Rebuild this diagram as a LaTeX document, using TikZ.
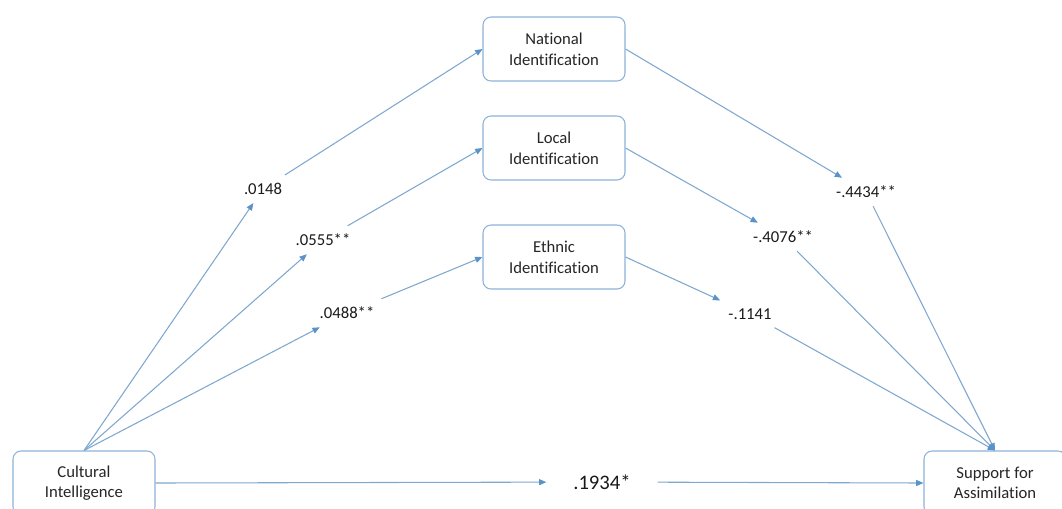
\documentclass[tikz,border=0pt]{standalone}
\usepackage{fontspec}
\setmainfont[Ligatures=NoCommon]{Carlito}
\usepackage{tikz}
\usetikzlibrary{arrows.meta}
\definecolor{boxline}{HTML}{8DB3D9}
\definecolor{pathline}{HTML}{7FA8CF}
\definecolor{tipblue}{HTML}{5B93C8}
\tikzset{mediation/.style={
    factor/.style={rectangle, draw=boxline, line width=0.8pt, rounded corners=6pt, minimum width=106.5pt, minimum height=48pt, align=center, fill=white, text=black!85, font=\fontsize{12.5}{15.5}\selectfont},
    coef/.style={inner sep=6pt, text=black!90, font=\fontsize{12.5}{15}\selectfont},
    coefbig/.style={coef, inner xsep=20pt, font=\fontsize{15.5}{18}\selectfont},
    effect/.style={draw=pathline, line width=0.8pt, -{Triangle[length=5.5pt, width=4.5pt, color=tipblue]}},
}}

\begin{document}
\begin{tikzpicture}[mediation, x=0.75pt, y=-0.75pt]
    \useasboundingbox (0,0) rectangle (1062,508);
    \clip (0,0) rectangle (1062,508);
    \node[factor] (ci)  at (84,483)  {Cultural\\Intelligence};
    \node[factor] (sup) at (995,483) {Support for\\Assimilation};
    \node[factor] (nat) at (554,49)  {National\\Identification};
    \node[factor] (loc) at (554,148) {Local\\Identification};
    \node[factor] (eth) at (554,257) {Ethnic\\Identification};

    \node[coef] (a1) at (263,189) {.0148};
    \node[coef] (a2) at (323,240) {.0555**};
    \node[coef] (a3) at (347,313) {.0488**};
    \node[coef] (b1) at (866,192) {-.4434**};
    \node[coef] (b2) at (783,237) {-.4076**};
    \node[coef] (b3) at (750,314) {-.1141};
    \node[coefbig] (c) at (602,482) {.1934*};

    \draw[effect] (ci.north) -- (a1);
    \draw[effect] (a1) -- (nat.west);
    \draw[effect] (ci.north) -- (a2);
    \draw[effect] (a2) -- (loc.west);
    \draw[effect] (ci.north) -- (a3);
    \draw[effect] (a3) -- (eth.west);
    \draw[effect] (nat.east) -- (b1);
    \draw[effect] (b1) -- (sup.north);
    \draw[effect] (loc.east) -- (b2);
    \draw[effect] (b2) -- (sup.north);
    \draw[effect] (eth.east) -- (b3);
    \draw[effect] (b3) -- (sup.north);
    \draw[effect] (ci.east) -- (c);
    \draw[effect] (c) -- (sup.west);
\end{tikzpicture}
\end{document}
